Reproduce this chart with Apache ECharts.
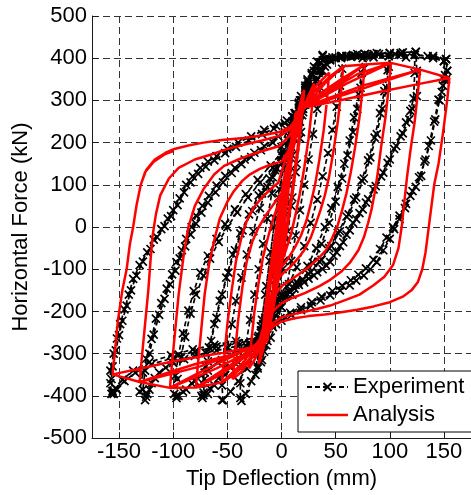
<!DOCTYPE html>
<html>
<head>
<meta charset="utf-8">
<script src="https://cdn.jsdelivr.net/npm/echarts@6/dist/echarts.min.js"></script>
<style>
  html, body { margin: 0; padding: 0; background: #fff; }
  #chart { width: 471px; height: 495px; }
</style>
</head>
<body>
<div id="chart"></div>
<script>
// Tick values
const xTicks = [-150, -100, -50, 0, 50, 100, 150];

// ---- Experiment: measured force-deflection path, one array per cycle ----
const expC1 = [[0,0],[3,60],[6,125],[3,60],[0,0],[-3,-60],[-6,-125],[-3,-70],[0,-10],[3,50],[6,125]];
const expC2 = [[12,235],[10,170],[7,100],[4,30],[1,-40],[-3,-100],[-7,-160],[-10,-210],[-12,-235],[-10,-180],[-7,-110],[-4,-40],[-1,30],[3,100],[7,165],[10,210],[12,235]];
const expC3 = [[22,330],[20,280],[17,210],[13,130],[9,50],[5,-30],[1,-100],[-4,-170],[-9,-230],[-14,-280],[-19,-320],[-22,-335],[-21,-290],[-18,-220],[-14,-140],[-10,-60],[-6,20],[-2,90],[3,160],[8,220],[13,270],[18,310],[22,335]];
const expC3b = [[24,345],[21,290],[18,225],[14,150],[10,70],[6,-10],[2,-80],[-3,-150],[-8,-215],[-13,-270],[-18,-315],[-24,-350],[-22,-300],[-19,-235],[-15,-160],[-11,-80],[-7,0],[-3,70],[2,140],[7,205],[12,260],[17,300],[24,350]];
const expC4 = [[30,380],[38,405],[38,370],[36,330],[33,280],[29,220],[25,160],[21,100],[17,40],[13,-20],[9,-80],[5,-140],[0,-190],[-5,-230],[-10,-262],[-16,-295],[-22,-330],[-28,-365],[-33,-395],[-37,-412],
  [-38,-405],[-38,-370],[-36,-330],[-33,-280],[-29,-220],[-25,-160],[-21,-100],[-17,-40],[-13,20],[-9,80],[-5,140],[0,190],[5,230],[10,262],[16,295],[22,330],[28,365],[33,392],[38,408]];
const expC5 = [[47,402],[56,405],[56,375],[54,335],[51,285],[47,230],[43,175],[38,120],[33,65],[27,10],[21,-45],[14,-95],[7,-135],[0,-170],[-7,-205],[-13,-240],[-18,-270],[-24,-300],[-32,-335],[-40,-365],[-47,-390],[-54,-410],
  [-55,-410],[-55,-375],[-53,-335],[-50,-285],[-46,-230],[-42,-175],[-37,-120],[-32,-65],[-26,-10],[-20,45],[-13,95],[-6,135],[0,170],[6,205],[12,240],[17,270],[22,300],[29,335],[36,370],[45,395],[56,405]];
const expC6 = [[66,408],[77,410],[76,375],[73,330],[70,280],[66,225],[61,170],[56,115],[50,60],[44,10],[37,-40],[29,-85],[20,-125],[10,-160],[0,-190],[-8,-220],[-14,-250],[-20,-275],[-30,-300],[-42,-325],[-52,-350],[-62,-375],[-68,-395],[-73,-405],
  [-74,-400],[-73,-370],[-70,-330],[-67,-285],[-62,-230],[-57,-175],[-51,-120],[-45,-65],[-38,-15],[-30,30],[-21,75],[-11,115],[0,150],[8,185],[14,225],[19,265],[25,305],[32,345],[40,380],[50,400],[60,405],[70,410],[77,410]];
const expC6b = [[75,400],[74,365],[71,315],[67,260],[63,205],[58,150],[52,95],[46,45],[40,0],[32,-50],[24,-92],[14,-130],[4,-165],[-5,-198],[-12,-228],[-17,-258],[-24,-285],[-36,-305],[-48,-330],[-58,-358],[-66,-382],[-72,-398],
  [-72,-392],[-71,-360],[-68,-318],[-65,-270],[-60,-215],[-55,-160],[-49,-108],[-43,-55],[-36,-8],[-27,38],[-18,80],[-8,118],[2,155],[9,190],[15,232],[20,272],[26,312],[33,350],[42,385],[55,402],[68,406],[76,404]];
const expC7 = [[88,412],[100,412],[99,380],[97,330],[93,280],[88,220],[82,165],[76,115],[69,70],[62,30],[54,-10],[46,-45],[37,-78],[27,-107],[15,-133],[3,-158],[-7,-185],[-14,-215],[-18,-245],[-25,-275],[-40,-295],[-55,-315],[-68,-340],[-80,-365],[-88,-385],[-95,-400],
  [-97,-400],[-96,-360],[-93,-310],[-89,-260],[-84,-205],[-79,-160],[-72,-115],[-66,-75],[-58,-35],[-50,0],[-41,35],[-31,70],[-20,105],[-8,140],[3,175],[11,210],[17,250],[22,290],[28,330],[35,370],[45,398],[65,405],[85,410],[100,412]];
const expC7b = [[99,405],[98,372],[95,322],[91,270],[86,212],[80,158],[74,110],[67,65],[60,25],[52,-14],[44,-50],[35,-82],[25,-111],[13,-137],[1,-162],[-8,-190],[-15,-220],[-19,-250],[-28,-278],[-44,-298],[-59,-320],[-71,-345],[-83,-370],[-91,-390],[-97,-405],
  [-99,-395],[-98,-352],[-95,-302],[-91,-252],[-86,-198],[-81,-152],[-75,-108],[-68,-68],[-60,-28],[-52,7],[-43,42],[-33,78],[-22,112],[-10,146],[1,180],[10,215],[16,255],[21,295],[27,335],[34,372],[44,398],[64,403],[84,406],[99,405]];
const expC8 = [[112,414],[124,415],[125,370],[125,310],[121,280],[118,255],[112,222],[106,192],[100,160],[94,129],[87,97],[80,66],[75,42],[69,19],[63,-8],[57,-36],[51,-60],[45,-83],[38,-100],[30,-115],[21,-131],[12,-146],[5,-158],[-3,-170],[-10,-190],[-15,-215],[-19,-245],[-24,-270],[-40,-282],[-60,-292],[-80,-305],[-100,-322],[-113,-345],[-120,-370],[-124,-395],[-126,-410],
  [-131,-390],[-128,-345],[-125,-312],[-120,-265],[-116,-217],[-111,-180],[-106,-146],[-101,-112],[-97,-83],[-92,-55],[-88,-28],[-83,0],[-79,27],[-73,50],[-67,74],[-60,98],[-52,121],[-43,140],[-34,160],[-25,176],[-16,192],[-3,215],[7,240],[13,265],[19,300],[25,340],[32,375],[40,398],[60,405],[90,410],[110,412],[124,415]];
const expC8b = [[123,408],[123,365],[122,305],[119,275],[115,248],[110,215],[104,185],[98,152],[92,120],[85,89],[78,58],[72,33],[66,10],[60,-18],[54,-45],[48,-68],[41,-90],[33,-107],[25,-122],[16,-137],[7,-151],[0,-163],[-6,-180],[-12,-202],[-17,-230],[-21,-258],[-30,-276],[-50,-287],[-70,-298],[-90,-313],[-107,-333],[-117,-358],[-122,-385],[-125,-402],
  [-128,-385],[-126,-340],[-122,-300],[-118,-255],[-113,-208],[-108,-170],[-103,-136],[-98,-103],[-94,-74],[-89,-46],[-84,-18],[-79,8],[-74,34],[-68,58],[-61,82],[-54,106],[-46,128],[-37,149],[-28,166],[-19,182],[-8,200],[3,225],[10,250],[16,283],[22,322],[28,360],[36,390],[50,402],[80,406],[105,410],[123,408]];
const expC9 = [[140,405],[152,398],[153,370],[150,349],[148,320],[145,302],[141,250],[136,192],[132,155],[129,121],[124,95],[119,74],[114,45],[109,19],[104,-5],[100,-28],[94,-55],[88,-83],[82,-100],[76,-115],[69,-127],[63,-138],[54,-150],[45,-162],[36,-174],[27,-186],[18,-197],[9,-209],[0,-222],[-8,-237],[-14,-255],[-20,-265],[-40,-275],[-60,-283],[-80,-295],[-100,-310],[-120,-325],[-135,-345],[-145,-365],[-152,-385],[-155,-395],
  [-157,-395],[-158,-370],[-158,-340],[-155,-300],[-152,-264],[-149,-230],[-145,-195],[-141,-160],[-137,-123],[-131,-90],[-124,-60],[-118,-30],[-111,-5],[-105,20],[-100,40],[-94,68],[-88,100],[-82,120],[-75,140],[-68,155],[-60,168],[-50,185],[-40,200],[-28,215],[-16,230],[-5,240],[5,252],[12,270],[18,300],[24,335],[30,370],[38,395],[55,405],[80,408],[110,408],[135,405],[152,398]];
const expC9b = [[150,393],[151,360],[149,335],[146,300],[142,255],[138,205],[133,160],[127,118],[121,85],[115,55],[109,27],[103,0],[97,-25],[91,-52],[85,-78],[78,-98],[71,-113],[64,-126],[56,-139],[47,-152],[37,-165],[28,-178],[18,-190],[8,-203],[-1,-216],[-9,-232],[-15,-250],[-22,-262],[-42,-270],[-62,-279],[-82,-290],[-102,-304],[-122,-320],[-137,-340],[-147,-362],[-153,-382],[-156,-392],
  [-156,-388],[-157,-360],[-156,-330],[-153,-292],[-150,-256],[-147,-222],[-143,-186],[-139,-150],[-134,-115],[-128,-82],[-121,-52],[-115,-24],[-108,2],[-102,26],[-96,52],[-90,82],[-84,106],[-77,126],[-70,143],[-62,158],[-52,175],[-42,190],[-30,205],[-18,220],[-7,233],[3,246],[10,262],[16,290],[22,325],[28,362],[36,390],[55,400],[85,402],[115,402],[140,400],[150,393],[153,370],[152,350]];

// ---- Analysis: computed force-deflection path, one array per cycle ----
const anaC1 = [[0,0],[3,70],[6,140],[8,190],[5,110],[1,20],[-3,-70],[-6,-140],[-8,-190]];
const anaC2 = [[-5,-110],[-1,-20],[3,80],[7,160],[10,215],[13,270],[10,200],[6,110],[2,20],[-3,-80],[-7,-160],[-10,-215],[-13,-270]];
const anaC2b = [[-10,-205],[-7,-120],[-3,-30],[1,60],[5,140],[9,205],[14,275],[11,205],[8,125],[4,35],[0,-55],[-4,-140],[-8,-200],[-14,-275]];
const anaC3 = [[-10,-200],[-6,-110],[-2,-20],[3,80],[7,170],[12,235],[16,280],[20,320],[18,260],[15,190],[11,110],[7,40],[3,-30],[-2,-100],[-7,-170],[-12,-235],[-16,-280],[-20,-320]];
const anaC3b = [[-17,-265],[-13,-190],[-9,-110],[-5,-30],[0,50],[5,130],[10,205],[15,265],[21,325],[19,265],[16,195],[12,115],[8,40],[3,-40],[-2,-115],[-8,-190],[-13,-250],[-21,-325]];
const anaC4 = [[-18,-260],[-15,-190],[-11,-110],[-7,-40],[-3,30],[2,100],[8,150],[13,210],[18,260],[23,300],[30,340],
  [28,280],[25,210],[21,140],[17,80],[13,30],[9,-15],[4,-55],[0,-85],[-5,-130],[-10,-190],[-15,-245],[-20,-285],[-25,-315],[-30,-335]];
const anaC5 = [[-28,-275],[-25,-200],[-21,-130],[-17,-70],[-12,-20],[-7,25],[-2,60],[3,95],[5,115],[9,165],[13,215],[17,260],[22,295],[32,335],[44,366],
  [42,300],[39,230],[35,160],[31,100],[27,55],[23,15],[18,-20],[12,-50],[6,-75],[0,-95],[-5,-120],[-9,-160],[-13,-210],[-17,-255],[-22,-290],[-30,-320],[-38,-345],[-45,-360]];
const anaC6 = [[-43,-300],[-40,-220],[-36,-140],[-32,-80],[-27,-35],[-21,0],[-14,30],[-7,55],[0,80],[3,125],[8,165],[12,210],[16,250],[20,280],[30,320],[44,355],[57,381],
  [55,320],[52,250],[48,180],[44,120],[40,75],[36,40],[32,10],[27,-25],[21,-55],[15,-75],[8,-95],[2,-108],[-4,-125],[-9,-160],[-13,-200],[-17,-245],[-22,-285],[-32,-320],[-44,-350],[-55,-368]];
const anaC7 = [[-53,-310],[-50,-230],[-46,-150],[-42,-80],[-37,-25],[-32,15],[-26,45],[-18,70],[-10,90],[-3,105],[6,180],[11,215],[15,250],[20,280],[40,340],[57,381],[77,385],
  [75,330],[72,260],[68,190],[64,130],[60,80],[56,40],[52,5],[47,-25],[41,-55],[34,-75],[25,-95],[16,-112],[7,-128],[0,-140],[-7,-165],[-12,-195],[-16,-230],[-20,-265],[-35,-320],[-55,-368],[-79,-380]];
const anaC8 = [[-77,-320],[-74,-240],[-71,-160],[-67,-90],[-62,-30],[-57,20],[-50,60],[-44,85],[-36,110],[-29,125],[-20,138],[-11,147],[0,155],[6,180],[11,215],[15,250],[20,280],[35,315],[55,350],[77,385],
  [75,330],[72,260],[68,190],[64,130],[60,80],[56,40],[52,5],[47,-25],[41,-55],[34,-75],[25,-95],[16,-112],[7,-128],[0,-140],[-7,-165],[-12,-195],[-16,-230],[-20,-265],[-30,-300],[-45,-330],[-60,-355],[-79,-380]];
const anaC9 = [[-77,-320],[-74,-240],[-71,-160],[-67,-90],[-62,-30],[-57,20],[-50,60],[-44,85],[-36,110],[-29,125],[-20,138],[-11,147],[0,155],[6,180],[11,215],[15,250],[20,280],[50,335],[77,385],[101,389],
  [99,330],[96,260],[92,190],[89,130],[86,80],[83,40],[80,10],[76,-25],[71,-55],[63,-85],[55,-106],[45,-125],[35,-140],[22,-156],[10,-168],[0,-180],[-8,-200],[-13,-225],[-17,-250],[-21,-275],[-40,-315],[-79,-380],[-103,-381]];
const anaC10 = [[-101,-320],[-98,-240],[-95,-160],[-92,-100],[-90,-60],[-86,0],[-80,50],[-72,90],[-62,125],[-53,145],[-40,160],[-30,170],[-15,182],[-2,192],[7,215],[12,240],[16,265],[21,285],[45,325],[70,362],[101,389],
  [99,330],[96,260],[92,190],[89,130],[86,80],[83,40],[80,10],[76,-25],[71,-55],[63,-85],[55,-106],[45,-125],[35,-140],[22,-156],[10,-168],[0,-180],[-8,-200],[-13,-225],[-17,-250],[-21,-275],[-40,-300],[-60,-325],[-80,-350],[-103,-381]];
const anaC11 = [[-101,-320],[-98,-240],[-95,-160],[-92,-100],[-90,-60],[-86,0],[-80,50],[-72,90],[-62,125],[-53,145],[-40,160],[-30,170],[-15,182],[-2,192],[7,215],[12,240],[16,265],[21,285],[60,340],[101,389],[128,373],
  [126,320],[123,250],[119,180],[116,120],[113,50],[111,0],[108,-50],[103,-90],[95,-118],[85,-138],[72,-160],[60,-172],[45,-186],[30,-196],[15,-204],[0,-214],[-8,-228],[-13,-248],[-17,-268],[-22,-285],[-60,-335],[-103,-381],[-131,-367]];
const anaC12 = [[-129,-310],[-126,-230],[-123,-150],[-121,-80],[-119,-20],[-116,30],[-112,75],[-104,115],[-95,140],[-80,160],[-65,172],[-51,184],[-35,195],[-18,205],[-2,216],[8,232],[13,250],[17,268],[22,285],[60,315],[95,345],[128,373],
  [126,320],[123,250],[119,180],[116,120],[113,50],[111,0],[108,-50],[103,-90],[95,-118],[85,-138],[72,-160],[60,-172],[45,-186],[30,-196],[15,-204],[0,-214],[-8,-228],[-13,-248],[-17,-268],[-22,-285],[-50,-305],[-80,-325],[-105,-345],[-131,-367]];
const anaC13 = [[-129,-310],[-126,-230],[-123,-150],[-121,-80],[-119,-20],[-116,30],[-112,75],[-104,115],[-95,140],[-80,160],[-65,172],[-51,184],[-35,195],[-18,205],[-2,216],[8,232],[13,250],[17,268],[22,285],[75,335],[128,373],[155,353],
  [153,300],[149,220],[145,150],[141,100],[138,40],[136,0],[133,-60],[130,-100],[126,-130],[120,-150],[112,-165],[100,-178],[85,-188],[70,-196],[55,-202],[40,-207],[25,-211],[12,-216],[0,-224],[-8,-236],[-13,-252],[-16,-268],[-20,-280],[-75,-330],[-131,-367],[-156,-349]];
const anaC14 = [[-154,-300],[-151,-220],[-147,-150],[-143,-100],[-140,-40],[-137,0],[-134,50],[-130,100],[-125,135],[-117,160],[-107,176],[-99,185],[-85,194],[-72,200],[-55,206],[-35,211],[-18,217],[-2,225],[8,238],[13,254],[16,270],[20,283],[50,298],[90,320],[125,338],[155,353],
  [153,300],[149,220],[145,150],[141,100],[138,40],[136,0],[133,-60],[130,-100],[126,-130],[120,-150],[112,-165],[100,-178],[85,-188],[70,-196],[55,-202],[40,-207],[25,-211],[12,-216],[0,-224],[-8,-236],[-13,-252],[-16,-268],[-20,-282],[-60,-300],[-100,-318],[-130,-335],[-156,-349],
  [-154,-300],[-151,-220],[-147,-150],[-143,-100],[-140,-40],[-137,0],[-134,50],[-130,100],[-126,130],[-118,155],[-108,172],[-100,180]];

const experiment = [].concat(expC1, expC2, expC3, expC3b, expC4, expC5, expC6, expC6b, expC7, expC7b, expC8, expC8b, expC9, expC9b);
const analysis = [].concat(anaC1, anaC2, anaC2b, anaC3, anaC3b, anaC4, anaC5, anaC6, anaC7, anaC8, anaC9, anaC10, anaC11, anaC12, anaC13, anaC14);

const FONT = "'Liberation Sans', Arial, sans-serif";
const ink = '#1a1a1a';
const gridDash = { color: '#333', width: 1, type: [7, 4] };

const chart = echarts.init(document.getElementById('chart'), null, { renderer: 'canvas' });
chart.setOption({
  animation: false,
  backgroundColor: '#fff',
  grid: { left: 92, top: 16, width: 385, height: 423, containLabel: false },
  legend: {
    left: 298, top: 371,
    orient: 'vertical',
    backgroundColor: '#fff',
    borderColor: '#000', borderWidth: 1, borderRadius: 0,
    padding: [5, 8, 6, 8],
    itemGap: 6,
    itemWidth: 41, itemHeight: 10,
    textStyle: { fontFamily: FONT, fontSize: 22, color: '#000' },
    data: [
      'Experiment',
      { name: 'Analysis', icon: 'path://M0,0L82,0L82,5L0,5Z' }
    ]
  },
  xAxis: {
    type: 'value', min: -175, max: 175,
    name: 'Tip Deflection (mm)', nameLocation: 'middle', nameGap: 28,
    nameTextStyle: { fontFamily: FONT, fontSize: 22, color: '#000' },
    axisLine: { show: true, onZero: false, lineStyle: { color: ink, width: 1 } },
    axisTick: { show: true, inside: true, length: 6, customValues: xTicks, lineStyle: { color: ink } },
    axisLabel: { customValues: xTicks, margin: 3, fontFamily: FONT, fontSize: 22, color: '#000' },
    splitLine: { show: true, lineStyle: gridDash }
  },
  yAxis: {
    type: 'value', min: -500, max: 500, interval: 100,
    name: 'Horizontal Force (kN)', nameLocation: 'middle', nameGap: 54,
    nameTextStyle: { fontFamily: FONT, fontSize: 22, color: '#000' },
    axisLine: { show: true, onZero: false, lineStyle: { color: ink, width: 1 } },
    axisTick: { show: true, inside: true, length: 6, lineStyle: { color: ink } },
    axisLabel: { margin: 5, fontFamily: FONT, fontSize: 22, color: '#000' },
    splitLine: { show: true, lineStyle: gridDash }
  },
  series: [
    {
      name: 'Experiment', type: 'line', data: experiment,
      symbol: 'path://M0,0L10,10M10,0L0,10', symbolSize: 8, showAllSymbol: true,
      lineStyle: { color: '#000', width: 1.7, type: [5, 3] },
      itemStyle: { color: 'none', borderColor: '#000', borderWidth: 1.7 },
      z: 2
    },
    {
      name: 'Analysis', type: 'line', data: analysis,
      symbol: 'none', showSymbol: false,
      lineStyle: { color: '#ff0000', width: 2.5 },
      itemStyle: { color: '#ff0000' },
      z: 3
    }
  ]
});
</script>
</body>
</html>
